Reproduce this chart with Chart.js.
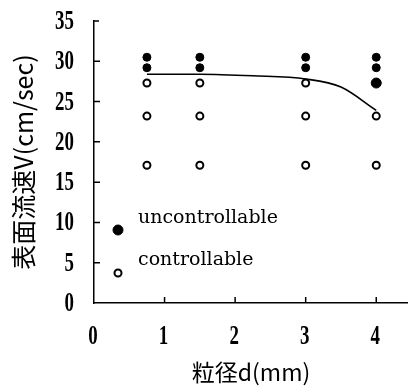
<!DOCTYPE html>
<html>
<head>
<meta charset="utf-8">
<script src="https://cdn.jsdelivr.net/npm/chart.js@4/dist/chart.umd.min.js"></script>
<style>
  html, body { margin: 0; padding: 0; background: #fff; }
  #wrap { width: 408px; height: 386px; }
</style>
</head>
<body>
<div id="wrap"><canvas id="myChart" width="408" height="386"></canvas></div>
<script>
// particle size d (mm) and surface velocity V (cm/sec)
const uncontrolledD = [0.75, 0.75, 1.5, 1.5, 3, 3, 4, 4, 4];
const uncontrolledV = [30.5, 29.2, 30.5, 29.2, 30.5, 29.2, 30.5, 29.2, 27.3];
const controlledD = [0.75, 0.75, 0.75, 1.5, 1.5, 1.5, 3, 3, 3, 4, 4];
const controlledV = [27.3, 23.2, 17.1, 27.3, 23.2, 17.1, 27.3, 23.2, 17.1, 23.2, 17.1];
// boundary curve
const boundaryD = [0.75, 1.5, 2.25, 3, 3.5, 4];
const boundaryV = [28.4, 28.4, 28.2, 27.8, 26.8, 23.9];
const xTicks = [0, 1, 2, 3, 4];
const yTicks = [0, 5, 10, 15, 20, 25, 30, 35];

const toPoints = (xs, ys) => xs.map((x, i) => ({ x: x, y: ys[i] }));

// condensed serif digits for the axis numbers
function drawNarrow(ctx, text, x, y, align) {
    ctx.save();
    ctx.translate(x, y);
    ctx.scale(0.7, 1);
    ctx.textAlign = align;
    ctx.textBaseline = 'middle';
    ctx.fillText(text, 0, 0);
    ctx.restore();
}

// tick marks on the inside of both axes, plus the tick numbers
const axisDecor = {
    id: 'axisDecor',
    afterDraw(chart) {
        const ctx = chart.ctx;
        const xs = chart.scales.x, ys = chart.scales.y;
        const area = chart.chartArea;
        ctx.save();
        ctx.strokeStyle = '#000';
        ctx.lineWidth = 1.5;
        ctx.beginPath();
        xTicks.forEach(v => {
            if (v === 0) return;
            const px = xs.getPixelForValue(v);
            ctx.moveTo(px, area.bottom);
            ctx.lineTo(px, area.bottom - 6);
        });
        yTicks.forEach(v => {
            if (v === 0 || v === 35) return;
            const py = ys.getPixelForValue(v);
            ctx.moveTo(area.left, py);
            ctx.lineTo(area.left + 6, py);
        });
        ctx.stroke();
        // short cap at the top of the y axis
        ctx.beginPath();
        ctx.moveTo(area.left, ys.getPixelForValue(35));
        ctx.lineTo(area.left + 5, ys.getPixelForValue(35));
        ctx.stroke();

        ctx.fillStyle = '#000';
        ctx.font = 'bold 27px "Liberation Serif"';
        xTicks.forEach(v => drawNarrow(ctx, String(v), xs.getPixelForValue(v) - 1, 337, 'center'));
        yTicks.forEach(v => drawNarrow(ctx, String(v), 74, ys.getPixelForValue(v) + 1, 'right'));
        ctx.restore();
    }
};

// legend placed inside the plot, in the lower left corner
const innerLegend = {
    id: 'innerLegend',
    afterDraw(chart) {
        const ctx = chart.ctx;
        const entries = [
            { ds: chart.data.datasets[0], mx: 118, my: 230, r: 5, tx: 138, ty: 218 },
            { ds: chart.data.datasets[1], mx: 118, my: 273, r: 3.5, tx: 138, ty: 260 }
        ];
        ctx.save();
        ctx.font = '19px "DejaVu Serif"';
        ctx.textBaseline = 'middle';
        entries.forEach(e => {
            ctx.beginPath();
            ctx.arc(e.mx, e.my, e.r, 0, Math.PI * 2);
            ctx.fillStyle = e.ds.backgroundColor;
            ctx.fill();
            ctx.lineWidth = e.ds.borderWidth;
            ctx.strokeStyle = '#000';
            ctx.stroke();
            ctx.fillStyle = '#000';
            ctx.fillText(e.ds.label, e.tx, e.ty);
        });
        ctx.restore();
    }
};

new Chart(document.getElementById('myChart').getContext('2d'), {
    type: 'scatter',
    data: {
        datasets: [
            {
                label: 'uncontrollable',
                data: toPoints(uncontrolledD, uncontrolledV),
                backgroundColor: '#000',
                borderColor: '#000',
                borderWidth: 1,
                pointRadius: [4, 4, 4, 4, 4, 4, 4, 4, 5]
            },
            {
                label: 'controllable',
                data: toPoints(controlledD, controlledV),
                backgroundColor: '#fff',
                borderColor: '#000',
                borderWidth: 2,
                pointRadius: 3.5
            },
            {
                type: 'line',
                label: 'boundary',
                data: toPoints(boundaryD, boundaryV),
                borderColor: '#000',
                borderWidth: 1.6,
                pointRadius: 0,
                fill: false,
                tension: 0.4,
                cubicInterpolationMode: 'monotone'
            }
        ]
    },
    options: {
        responsive: false,
        animation: false,
        layout: { autoPadding: false, padding: { top: 21, right: 0, bottom: 0, left: 0 } },
        plugins: {
            legend: { display: false },
            tooltip: { enabled: false }
        },
        scales: {
            x: {
                type: 'linear',
                min: 0,
                max: 4.45,
                grid: { display: true, drawOnChartArea: false, drawTicks: false },
                border: { display: true, color: '#000', width: 1.5 },
                ticks: { display: false, stepSize: 1, includeBounds: false },
                title: {
                    display: true,
                    text: '粒径d(mm)',
                    color: '#000',
                    padding: 0,
                    font: { family: '"Noto Sans CJK JP"', size: 23 }
                },
                afterFit(scale) { scale.height = 83; }
            },
            y: {
                min: 0,
                max: 35,
                grid: { display: true, drawOnChartArea: false, drawTicks: false },
                border: { display: true, color: '#000', width: 1.5 },
                ticks: { display: false, stepSize: 5 },
                title: {
                    display: true,
                    text: '表面流速V(cm/sec)',
                    color: '#000',
                    padding: { top: 8, bottom: 0 },
                    font: { family: '"Noto Sans CJK JP"', size: 25 }
                },
                afterFit(scale) { scale.width = 94; }
            }
        }
    },
    plugins: [axisDecor, innerLegend]
});
</script>
</body>
</html>
